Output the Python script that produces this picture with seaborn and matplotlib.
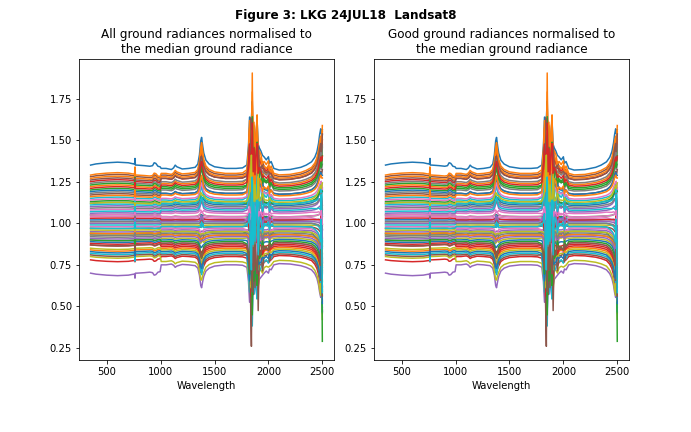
import matplotlib
matplotlib.use("Agg")
import matplotlib.pyplot as plt
import numpy as np
import pandas as pd
import seaborn as sns

# wavelength samples (nm) with the spread profile
wavelength = [350, 400, 500, 600, 700, 750, 758, 762, 766, 780, 850, 900, 925, 940, 955, 975, 995,
              1005, 1050, 1100, 1120, 1135, 1150, 1200, 1260, 1320, 1345, 1360, 1372, 1380, 1390,
              1400, 1420, 1450, 1500, 1600, 1700, 1760, 1800,
              1815, 1825, 1835, 1842, 1850, 1858, 1866, 1875, 1885, 1895, 1905, 1915, 1930, 1945,
              1960, 1980, 2000, 2010, 2025, 2050,
              2100, 2200, 2300, 2350, 2400, 2430, 2450, 2465, 2475, 2485, 2490, 2495, 2500]
spread = [1.00, 1.02, 1.04, 1.05, 1.04, 1.02, 1.02, 1.10, 1.00, 1.00, 0.99, 0.98, 0.99, 1.04, 1.03, 0.98, 0.97,
          1.00, 1.00, 0.98, 1.01, 1.06, 1.03, 0.99, 1.00, 1.02, 1.08, 1.25, 1.50, 1.55, 1.40,
          1.28, 1.15, 1.08, 1.03, 1.00, 1.00, 1.01, 1.06,
          1.40, 1.90, 1.60, 2.00, 2.10, 1.50, 1.70, 1.40, 1.60, 1.80, 1.50, 1.35, 1.30, 1.25,
          1.20, 1.15, 1.20, 1.10, 1.12, 1.00,
          0.97, 0.98, 1.02, 1.06, 1.12, 1.20, 1.30, 1.45, 1.60, 1.70, 1.65, 1.60, 1.60]
band_noise = [0, 0, 0, 0, 0, 0, 0, 0.05, 0, 0, 0, 0, 0, 0, 0, 0, 0,
              0, 0, 0, 0, 0, 0, 0, 0, 0, 0, 0, 0.02, 0.05, 0.03,
              0, 0, 0, 0, 0, 0, 0, 0.01,
              0.05, 0.12, -0.15, -0.30, 0.40, -0.12, 0.20, -0.10, 0.15, 0.22, -0.20, 0.08, 0.06, -0.04,
              0.03, 0.02, 0.04, -0.02, 0.02, 0,
              0, 0, 0, 0, 0, 0, 0, 0, 0, 0, 0, 0, 0]
edge_noise = [0] * 59 + [0, 0, 0, 0, 0, 0.01, 0.02, 0.03, 0.05, 0.07, -0.05, 0.10, 0.35]

# per-spectrum level relative to the median (visible / swir detector)
vnir_level = [1.35, 1.22, 1.05, 0.78, 0.70, 1.28, 0.90, 1.18, 0.80, 0.82,
              1.02, 0.84, 1.20, 1.25, 0.95, 0.81, 1.08, 0.92, 1.00, 1.15,
              1.12, 1.27, 0.94, 0.88, 1.10, 0.97, 1.04, 1.24, 0.93, 0.99,
              0.89, 1.29, 1.13, 0.87, 1.06, 1.17, 0.98, 1.01, 0.85, 1.11,
              1.19, 0.94, 1.23, 1.03, 0.91, 1.26, 1.14, 1.09, 0.96, 1.07,
              0.83, 1.16, 0.90, 1.21, 1.00, 0.87, 1.05, 0.93, 1.12, 0.97]
swir_level = [1.33, 1.24, 1.04, 0.80, 0.75, 1.29, 0.88, 1.20, 0.77, 0.82,
              1.02, 0.85, 1.22, 1.27, 0.96, 0.81, 1.06, 0.93, 0.99, 1.14,
              1.11, 1.28, 0.95, 0.87, 1.09, 0.98, 1.03, 1.25, 0.91, 1.00,
              0.90, 1.30, 1.12, 0.86, 1.07, 1.18, 0.97, 1.00, 0.84, 1.12,
              1.18, 0.93, 1.21, 1.02, 0.92, 1.27, 1.15, 1.10, 0.95, 1.08,
              0.83, 1.17, 0.89, 1.23, 1.01, 0.88, 1.04, 0.94, 1.13, 0.98]
band_k = [0.1, 1.0, -0.3, 0.2, 0.0, -0.2, -0.9, 0.6, 0.3, -0.6,
          0.4, 0.5, -0.4, 0.2, 0.3, 1.2, -0.5, 0.5, 0.0, 0.8,
          -0.3, 0.3, -0.7, 0.6, -0.2, 0.4, -0.8, 0.1, 0.7, -0.5,
          0.2, 0.4, -0.6, 0.3, 0.5, -0.1, -0.9, 0.6, 0.2, 0.9,
          -0.4, 0.3, 0.5, -0.7, 0.4, -0.3, 0.2, -0.6, 0.3, 0.7,
          -0.2, 0.5, -0.8, 0.3, 0.6, -0.4, 0.2, 0.4, -0.5, 0.8]
edge_k = [0.1, 0.5, -0.2, -0.6, -0.3, 0.2, -1.0, 0.1, -0.6, -0.7,
          -0.2, -0.4, 0.3, 0.2, -0.5, -0.3, -0.6, -0.2, 0.0, -0.4,
          0.1, 0.4, -1.8, -0.5, -0.1, -0.3, -0.8, 0.2, -0.4, -0.6,
          -0.3, 0.2, 0.0, -0.5, -0.2, 0.1, -0.7, -0.3, -0.6, -0.9,
          0.0, -0.4, 0.2, -0.2, -0.5, 0.3, -0.1, -0.3, -0.4, -0.8,
          -0.6, 0.0, -0.5, 0.1, -0.3, -0.7, -0.2, -0.4, 0.1, -1.1]

titles = ["All ground radiances normalised to\nthe median ground radiance",
          "Good ground radiances normalised to\nthe median ground radiance"]
suptitle = "Figure 3: LKG 24JUL18  Landsat8"

wl = np.array(wavelength, dtype=float)
frames = []
for i in range(len(vnir_level)):
    level = np.where(wl < 1000, vnir_level[i], swir_level[i])
    ratio = (1 + (level - 1) * np.array(spread) + band_k[i] * np.array(band_noise)
             + edge_k[i] * np.array(edge_noise))
    frames.append(pd.DataFrame({"Wavelength": wl, "ratio": ratio, "spectrum": f"s{i:02d}"}))
df = pd.concat(frames, ignore_index=True)

order = [f"s{i:02d}" for i in range(len(vnir_level))]
tab10 = sns.color_palette("tab10")
palette = [tab10[i % 10] for i in range(len(order))]

fig, axes = plt.subplots(1, 2, figsize=(9.6, 6), dpi=72)
fig.subplots_adjust(left=0.1143, right=0.9098, top=0.8627, bottom=0.1667, wspace=0.157)

for ax, title in zip(axes, titles):
    sns.lineplot(data=df, x="Wavelength", y="ratio", hue="spectrum", hue_order=order,
                 palette=palette, estimator=None, sort=False, legend=False,
                 linewidth=1.5, ax=ax)
    ax.set_title(title)
    ax.set_ylabel("")

fig.suptitle(suptitle, fontweight="bold")
fig.savefig("out.png", dpi=72)
